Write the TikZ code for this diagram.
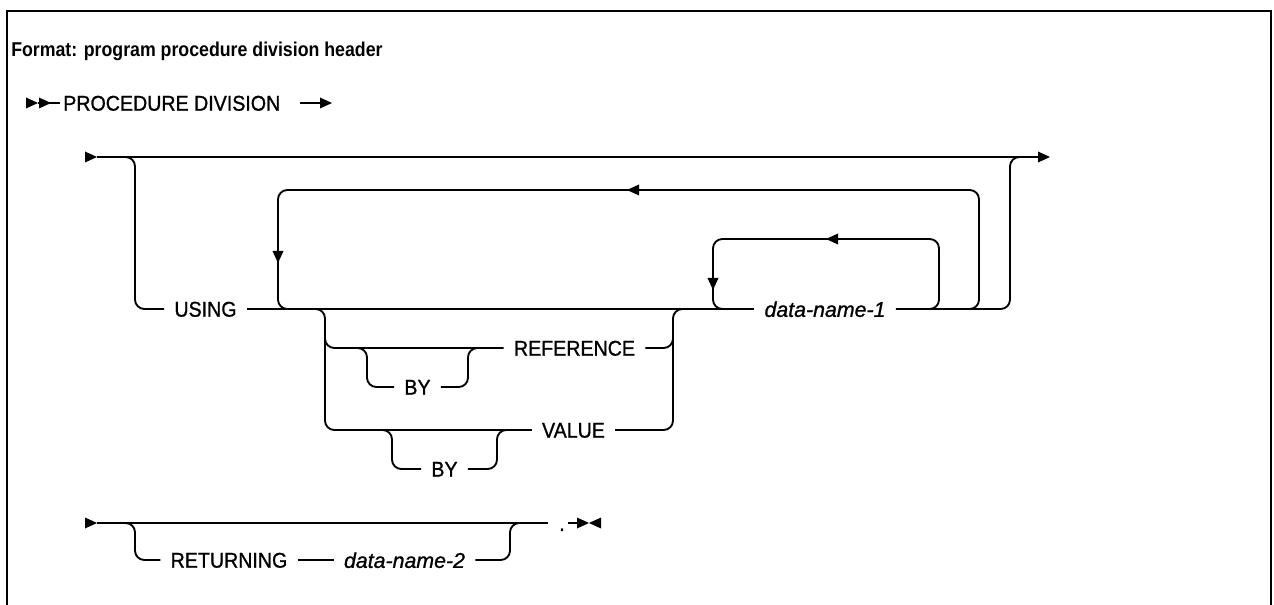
\documentclass[tikz,border=0pt]{standalone}
\usepackage{fontspec}
\setmainfont{Liberation Sans}[FakeStretch=0.887]
\newfontfamily\railfont{Liberation Sans}[FakeStretch=0.92, FakeBold=1]
\newfontfamily\varfont{Liberation Sans}[FakeBold=1]
\newcommand\RRtri[2]{\fill (#1,#2) -- ++(-12,-5.5) -- ++(0,11) -- cycle;}
\newcommand\LLtri[2]{\fill (#1,#2) -- ++(12,-5.5) -- ++(0,11) -- cycle;}
\newcommand\DDtri[2]{\fill (#1,#2) -- ++(-5.5,-12) -- ++(11,0) -- cycle;}
\tikzset{
  kw/.style={inner xsep=7.5pt, inner ysep=0pt, text height=11.5pt, text depth=0pt,
    font=\railfont\fontsize{16}{19}\selectfont},
  var/.style={inner xsep=7.5pt, inner ysep=0pt, text height=11.8pt, text depth=0pt,
    font=\varfont\fontsize{16}{19}\selectfont\itshape},
  rail/.style={line width=1.4pt, rounded corners=7pt},
  plain/.style={line width=1.4pt},
}
\begin{document}
\begin{tikzpicture}[x=0.75pt,y=-0.75pt]
\useasboundingbox (0,0) rectangle (1274,605);
\clip (0,0) rectangle (1274,605);
% frame
\draw[line width=2pt] (7,640) -- (7,11) -- (1271,11) -- (1271,640);
% title
\node[anchor=base west, inner sep=0pt, font=\fontsize{15}{18}\selectfont\bfseries] (title) at (11,57) {Format: program procedure division header};
% header row
\RRtri{38}{103}
\RRtri{51}{103}
\draw[plain] (38,103) -- (60,103);
\node[anchor=west, inner sep=0pt, text height=11.5pt, text depth=0pt, font=\railfont\fontsize{16}{19}\selectfont] (proc) at (63,103) {PROCEDURE DIVISION};
\draw[plain] (300,103) -- (322,103);
\RRtri{332}{103}
% text nodes
\node[kw] (using) at (205.5,309) {USING};
\node[kw] (ref) at (574.5,348) {REFERENCE};
\node[kw] (by1) at (417.5,387) {BY};
\node[kw] (val) at (573.5,430) {VALUE};
\node[kw] (by2) at (444.5,469) {BY};
\node[var] (dn1) at (825,309) {data-name-1};
% top line
\RRtri{97}{157}
\draw[plain] (97,157) -- (1040,157);
\RRtri{1050}{157}
% left drop to USING
\draw[rail] (110,157) -- (135,157) -- (135,309) -- (using.west);
\draw[rail] (using.east) -- (dn1.west);
\draw[rail] (dn1.east) -- (1010,309) -- (1010,157) -- (1030,157);
% big repeat loop
\draw[rail] (955,309) -- (979,309) -- (979,190) -- (278,190) -- (278,309) -- (300,309);
\LLtri{627}{190}
\DDtri{278}{263}
% inner repeat loop
\draw[rail] (915,309) -- (939,309) -- (939,239) -- (713,239) -- (713,309) -- (735,309);
\LLtri{826}{239}
\DDtri{713}{290}
% BY REFERENCE / BY VALUE branch
\draw[rail] (300,309) -- (325,309) -- (325,430) -- (val.west);
\draw[rail] (325,325) -- (325,348) -- (ref.west);
\draw[rail] (345,348) -- (367,348) -- (367,387) -- (by1.west);
\draw[rail] (by1.east) -- (468,387) -- (468,348) -- (490,348);
\draw[rail] (370,430) -- (392,430) -- (392,469) -- (by2.west);
\draw[rail] (by2.east) -- (497,469) -- (497,430) -- (520,430);
\draw[rail] (ref.east) -- (673,348) -- (673,330);
\draw[rail] (val.east) -- (673,430) -- (673,309) -- (695,309);
% bottom row
\node[kw] (ret) at (229,560) {RETURNING};
\node[var] (dn2) at (404.5,560) {data-name-2};
\RRtri{97}{523}
\draw[plain] (97,523) -- (548,523);
\draw[rail] (110,523) -- (135,523) -- (135,560) -- (ret.west);
\draw[rail] (ret.east) -- (dn2.west);
\draw[rail] (dn2.east) -- (510,560) -- (510,523) -- (530,523);
\node[anchor=base, inner sep=0pt, font=\railfont\fontsize{16}{19}\selectfont] (dot) at (562,531) {.};
\draw[plain] (568,523) -- (580,523);
\RRtri{589}{523}
\LLtri{589}{523}
\end{tikzpicture}
\end{document}
